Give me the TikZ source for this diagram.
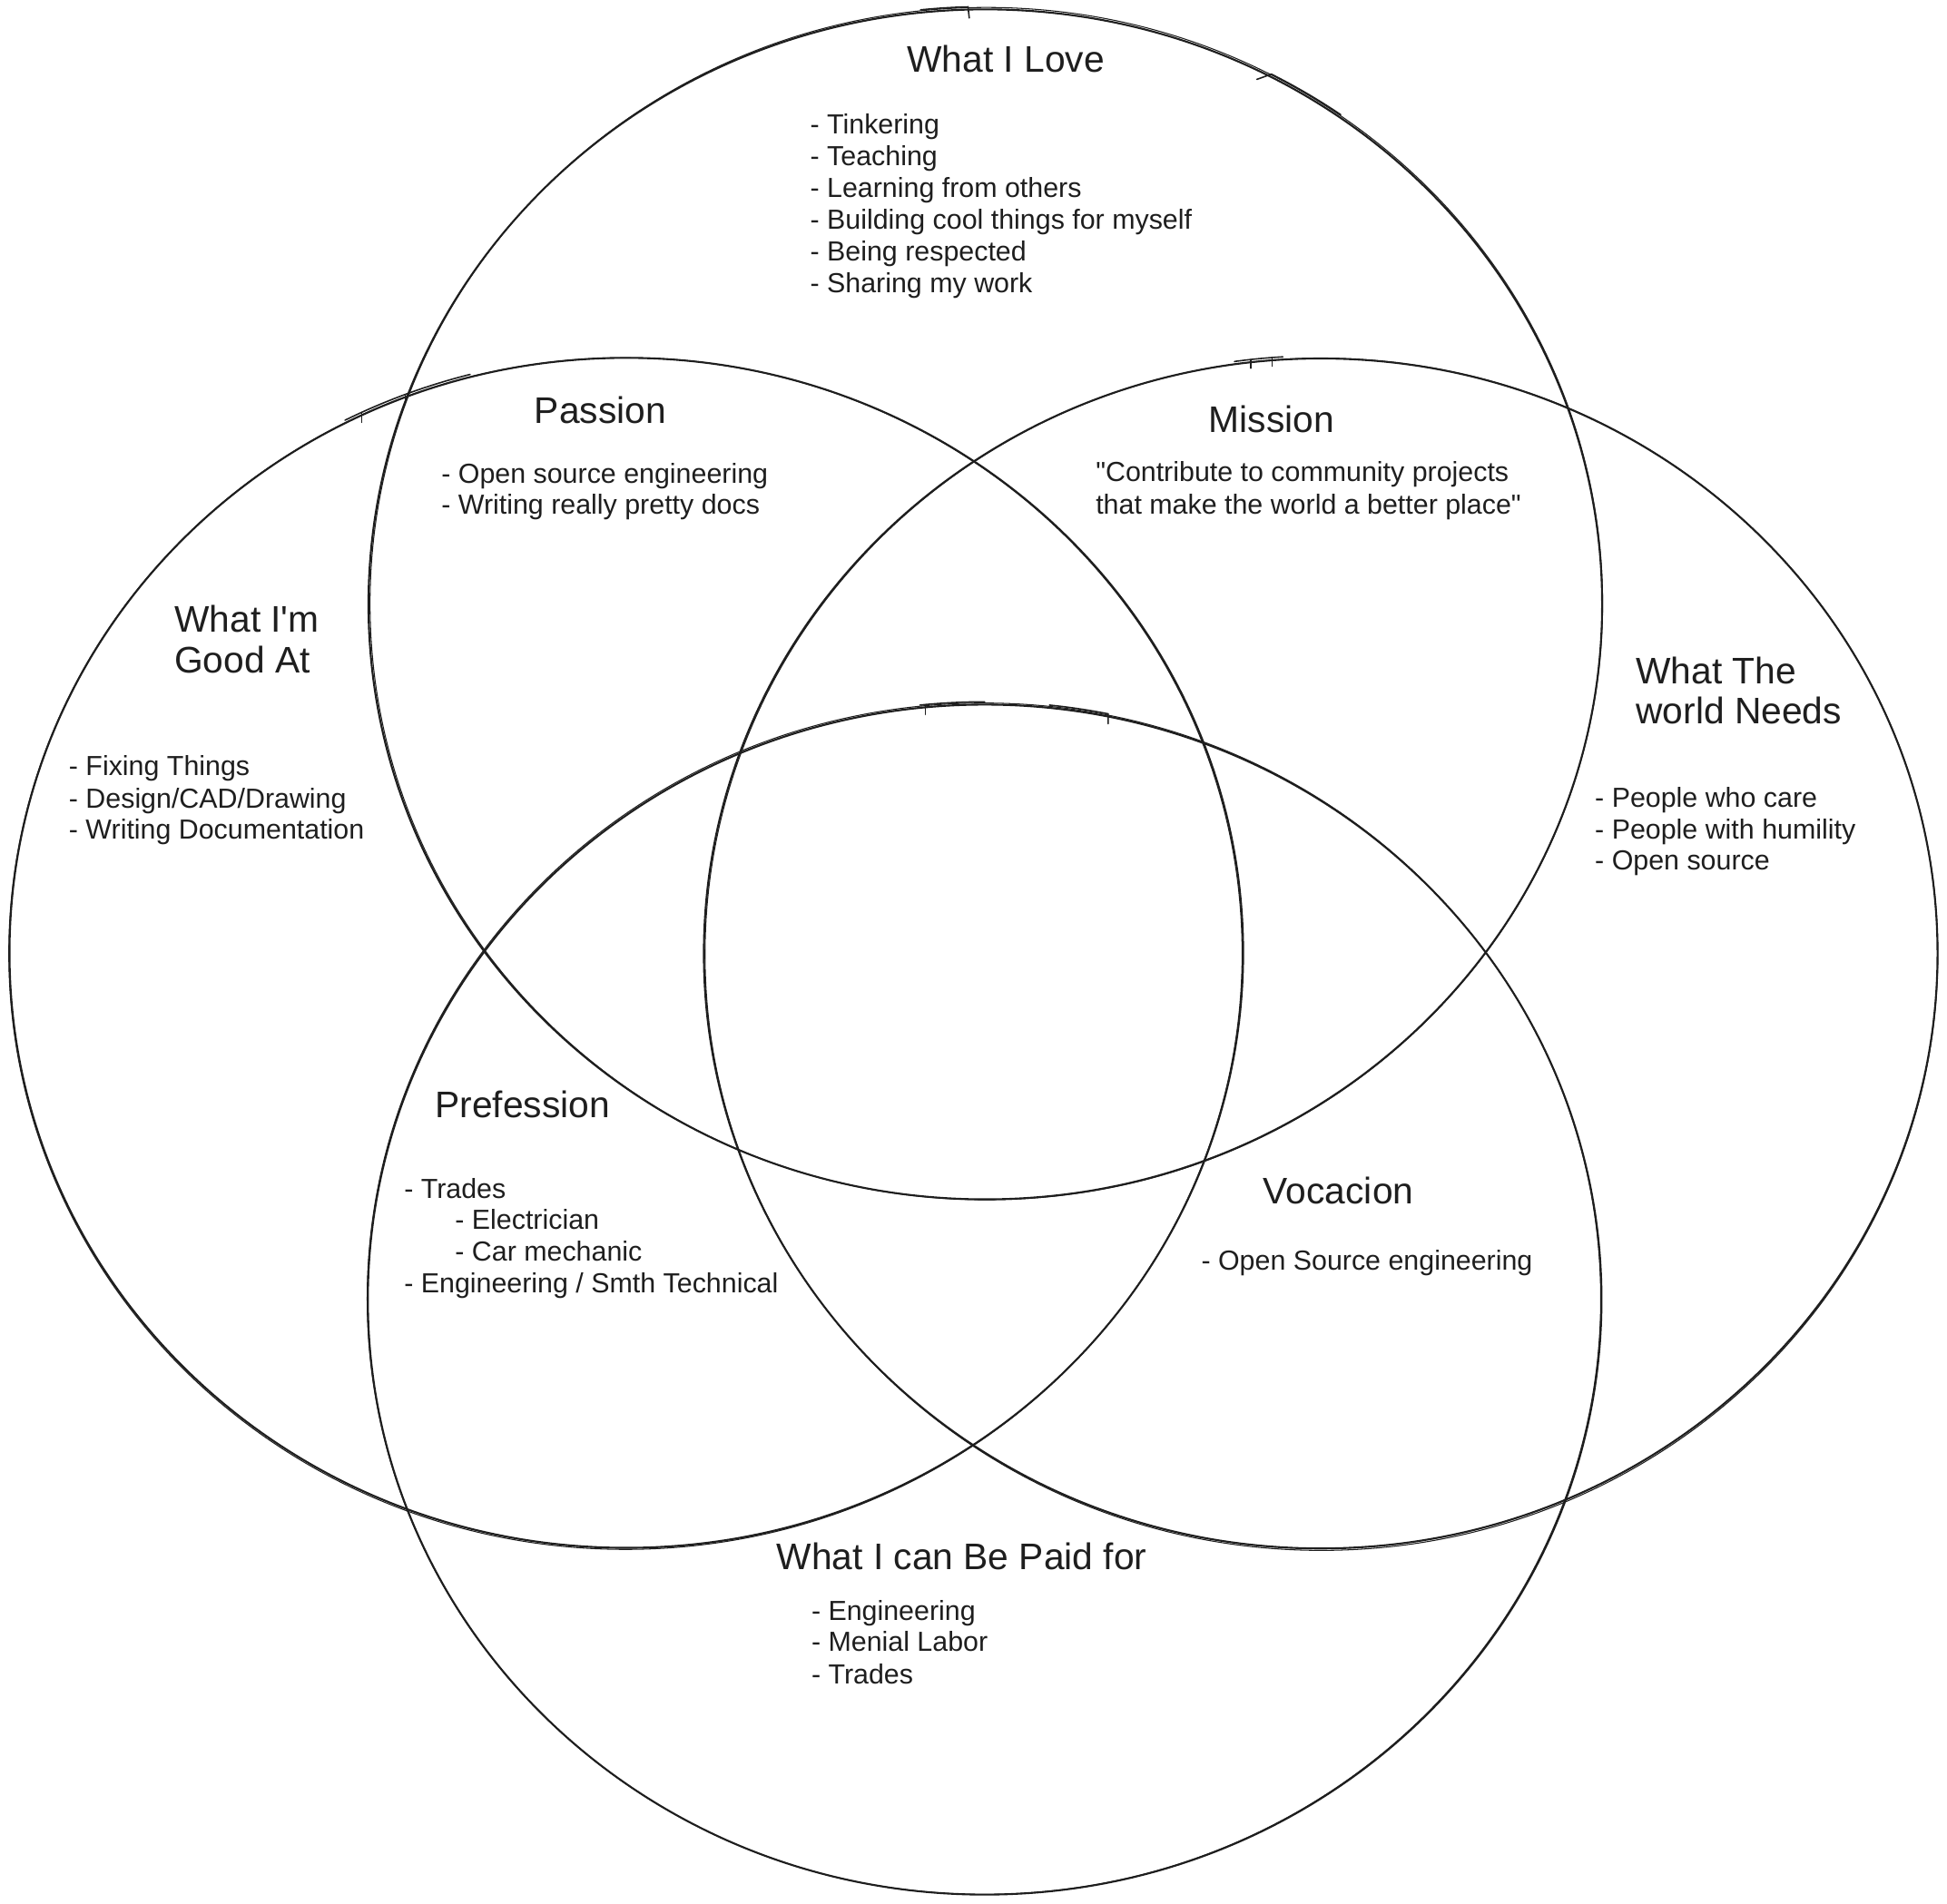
\documentclass[tikz,border=0pt]{standalone}
\usepackage{fontspec}
\setmainfont{Liberation Sans}
\usetikzlibrary{shapes.geometric,calc}
\definecolor{ink}{HTML}{1E1E1E}
\begin{document}
\begin{tikzpicture}[x=0.01368cm,y=-0.01368cm,
  ring/.style={ellipse, draw=ink, line width=0.6pt, inner sep=0pt, outer sep=0pt,
    minimum width=13.598cm, minimum height=13.119cm},
  ghost/.style={draw=ink, line width=0.3pt},
  hook/.style={draw=ink, line width=0.45pt, line cap=round},
  ttl/.style={anchor=base west, inner sep=0pt, text=ink, font=\fontsize{11.6}{12.8}\selectfont},
  lst/.style={anchor=base west, inner sep=0pt, text=ink, font=\fontsize{8.65}{10}\selectfont}]
\useasboundingbox (0,0) rectangle (1568,1533);
\fill[white] (0,0) rectangle (1568,1533);

% circles
\node[ring] (love)  at (793.5,486.8) {};
\node[ring] (good)  at (504.4,767.5) {};
\node[ring] (world) at (1063.6,768) {};
\node[ring] (paid)  at (793,1046.8) {};

% second sketch strokes
\draw[ghost] ($(love.center)+(0.8,-0.6)$) ellipse [x radius=496.3, y radius=480.2];
\draw[ghost] ($(good.center)+(-0.7,0.6)$) ellipse [x radius=496.6, y radius=479.9];
\draw[ghost] ($(world.center)+(0.6,0.7)$) ellipse [x radius=496.4, y radius=480.1];
\draw[ghost] ($(paid.center)+(-0.6,-0.7)$) ellipse [x radius=496.7, y radius=479.8];

% start/end hooks of the hand-drawn strokes
\draw[hook] ($(love.center)+(-96:499 and 481.5)$) arc[start angle=-96, end angle=-91.6, x radius=499, y radius=481.5] -- ++(1,9);
\draw[hook] ($(love.center)+(-63.5:490 and 472.5)$) -- ($(love.center)+(-62.5:499 and 481.5)$) arc[start angle=-62.5, end angle=-55, x radius=499, y radius=481.5];
\draw[hook] ($(good.center)+(-117:499 and 481.5)$) arc[start angle=-117, end angle=-104.6, x radius=499, y radius=481.5];
\draw[hook] ($(good.center)+(-115.3:499 and 481.5)$) -- ++(0,8);
\draw[hook] ($(good.center)+(-110.9:499 and 481.5)$) -- ++(0,8);
\draw[hook] ($(world.center)+(-98:499 and 481.5)$) arc[start angle=-98, end angle=-93.5, x radius=499, y radius=481.5];
\draw[hook] ($(world.center)+(-96.5:499 and 481.5)$) -- ++(0,7);
\draw[hook] ($(world.center)+(-94.5:499 and 481.5)$) -- ++(0,7);
\draw[hook] ($(paid.center)+(-96:499 and 481.5)$) arc[start angle=-96, end angle=-90, x radius=499, y radius=481.5];
\draw[hook] ($(paid.center)+(-95.5:499 and 481.5)$) -- ++(0,8);
\draw[hook] ($(paid.center)+(-84:499 and 481.5)$) arc[start angle=-84, end angle=-78.5, x radius=499, y radius=481.5] -- ++(0,8);

% What I Love
\node[ttl] (tlove) at (730,58) {What I Love};
\foreach \t [count=\i] in {{- Tinkering},{- Teaching},{- Learning from others},{- Building cool things for myself},{- Being respected},{- Sharing my work}}
  \node[lst] (lv\i) at (652,{108+25.6*(\i-1)}) {\t};

% Passion
\node[ttl] (tpass) at (430,341) {Passion};
\node[lst] (ps1) at (355,389) {- Open source engineering};
\node[lst] (ps2) at (355,414) {- Writing really pretty docs};

% Mission
\node[ttl] (tmis) at (973,348) {Mission};
\node[lst] (ms1) at (882,388) {\textquotedbl Contribute to community projects};
\node[lst] (ms2) at (882,414) {that make the world a better place\textquotedbl};

% What I'm Good At
\node[ttl] (tgood1) at (140,509) {What I\textquotesingle m};
\node[ttl] (tgood2) at (140,542) {Good At};
\node[lst] (gd1) at (55,625) {- Fixing Things};
\node[lst] (gd2) at (55,651) {- Design/CAD/Drawing};
\node[lst] (gd3) at (55,676) {- Writing Documentation};

% What The world Needs
\node[ttl] (twld1) at (1317,551) {What The};
\node[ttl] (twld2) at (1317,583) {world Needs};
\node[lst] (wd1) at (1284,650) {- People who care};
\node[lst] (wd2) at (1284,676) {- People with humility};
\node[lst] (wd3) at (1284,701) {- Open source};

% Prefession
\node[ttl] (tpro) at (350,900) {Prefession};
\node[lst] (pr1) at (325,965) {- Trades};
\node[lst] (pr2) at (366,990) {- Electrician};
\node[lst] (pr3) at (366,1016) {- Car mechanic};
\node[lst] (pr4) at (325,1041) {- Engineering / Smth Technical};

% Vocacion
\node[ttl] (tvoc) at (1017,970) {Vocacion};
\node[lst] (vc1) at (967,1023) {- Open Source engineering};

% What I can Be Paid for
\node[ttl] (tpaid) at (625,1264) {What I can Be Paid for};
\node[lst] (pd1) at (653,1305) {- Engineering};
\node[lst] (pd2) at (653,1330) {- Menial Labor};
\node[lst] (pd3) at (653,1356) {- Trades};
\end{tikzpicture}
\end{document}
